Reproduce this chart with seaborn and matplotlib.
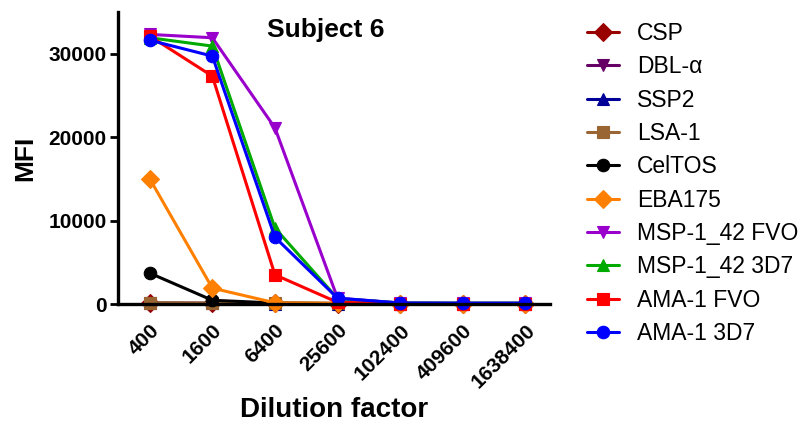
import numpy as np
import pandas as pd
import matplotlib
matplotlib.use("Agg")
import matplotlib.pyplot as plt
import matplotlib.transforms as mtransforms
import seaborn as sns

dilutions = [400, 1600, 6400, 25600, 102400, 409600, 1638400]
antigens = ["CSP", "DBL-\u03b1", "SSP2", "LSA-1", "CelTOS", "EBA175",
            "MSP-1_42 FVO", "MSP-1_42 3D7", "AMA-1 FVO", "AMA-1 3D7"]

csp = [100, 80, 80, 60, 50, 50, 50]
dbl_alpha = [80, 70, 60, 50, 50, 50, 50]
ssp2 = [90, 70, 60, 50, 50, 50, 50]
lsa1 = [150, 120, 100, 80, 60, 60, 60]
celtos = [3700, 450, 120, 60, 50, 50, 50]
eba175 = [15000, 1900, 150, 80, 60, 60, 60]
msp142_fvo = [32300, 31900, 21100, 700, 120, 100, 100]
msp142_3d7 = [31900, 30900, 9100, 650, 120, 100, 100]
ama1_fvo = [32100, 27300, 3500, 200, 60, 50, 50]
ama1_3d7 = [31600, 29700, 8000, 700, 120, 100, 100]

series = [csp, dbl_alpha, ssp2, lsa1, celtos, eba175,
          msp142_fvo, msp142_3d7, ama1_fvo, ama1_3d7]
colors = ["#990000", "#660066", "#000099", "#996633", "#000000", "#FF8000",
          "#9900CC", "#00AA00", "#FF0000", "#0000FF"]
markers = ["D", "v", "^", "s", "o", "D", "v", "^", "s", "o"]

rows = []
for name, vals in zip(antigens, series):
    for d, v in zip(dilutions, vals):
        rows.append({"Dilution": d, "MFI": v, "Antigen": name})
df = pd.DataFrame(rows)

sns.set_style("ticks")
plt.rcParams["font.family"] = ["Liberation Sans", "DejaVu Sans"]
plt.rcParams.update({"text.color": "black", "axes.labelcolor": "black",
                     "xtick.color": "black", "ytick.color": "black"})

fig = plt.figure(figsize=(8.07, 4.24), dpi=100)
ax = fig.add_axes([0.146, 0.283, 0.536, 0.689])

sns.lineplot(data=df, x="Dilution", y="MFI", hue="Antigen", style="Antigen",
             hue_order=antigens, style_order=antigens,
             palette=dict(zip(antigens, colors)),
             markers=dict(zip(antigens, markers)), dashes=False,
             markersize=9, linewidth=2.2, markeredgewidth=0.8,
             ax=ax, clip_on=False, legend="full")

# give every marker an edge in its own series colour
for line in ax.lines:
    line.set_markeredgecolor(line.get_color())

ax.set_xscale("log", base=4)
ax.set_xlim(400 / 4 ** 0.51, 1638400 * 4 ** 0.4)
ax.set_ylim(0, 35000)
ax.set_xticks(dilutions)
ax.set_xticklabels([str(d) for d in dilutions], rotation=45, ha="right",
                   rotation_mode="anchor", fontsize=15, fontweight="bold",
                   color="black")
shift = mtransforms.ScaledTranslation(5 / 100, 0, fig.dpi_scale_trans)
for lbl in ax.get_xticklabels():
    lbl.set_transform(lbl.get_transform() + shift)
ax.minorticks_off()
ax.set_yticks([0, 10000, 20000, 30000])
ax.set_yticklabels(["0", "10000", "20000", "30000"], fontsize=15,
                   fontweight="bold", color="black")
ax.tick_params(axis="both", width=2, length=6, direction="out", colors="black")
ax.tick_params(axis="x", length=0, pad=12)
ax.tick_params(axis="y", pad=2)

for side in ["top", "right"]:
    ax.spines[side].set_visible(False)
for side in ["left", "bottom"]:
    ax.spines[side].set_linewidth(2.4)
    ax.spines[side].set_color("black")

ax.set_xlabel("Dilution factor", fontsize=20, fontweight="bold", labelpad=4,
              color="black")
ax.set_ylabel("MFI", fontsize=19, fontweight="bold", labelpad=8, color="black")
ax.text(0.48, 0.938, "Subject 6", transform=ax.transAxes, ha="center",
        va="center", fontsize=19, fontweight="bold", color="black")

handles, labels = ax.get_legend_handles_labels()
for h in handles:
    h.set_markeredgecolor(h.get_color())
leg = ax.legend(handles, labels, loc="upper left", bbox_to_anchor=(0.727, 0.948),
                bbox_transform=fig.transFigure, frameon=False, fontsize=16.5,
                handlelength=1.4, labelspacing=0.45, handletextpad=0.8,
                borderaxespad=0, borderpad=0)
for t in leg.get_texts():
    t.set_color("black")

fig.savefig("out.png", dpi=100)
